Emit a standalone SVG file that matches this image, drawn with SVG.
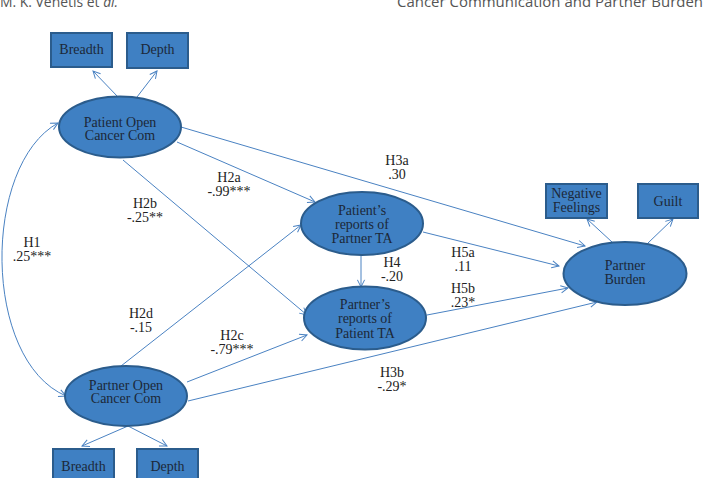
<svg xmlns="http://www.w3.org/2000/svg" width="704" height="478" viewBox="0 0 704 478">
<style>
.node{fill:#3f80c3;stroke:#2b5c8c;stroke-width:2}
.nt{font-family:"Liberation Serif","Times New Roman",serif;font-size:14px;fill:#1c2838;text-anchor:middle}
.lb{font-family:"Liberation Serif","Times New Roman",serif;font-size:14px;fill:#222;text-anchor:middle}
.ed{fill:none;stroke:#4a82c2;stroke-width:1;marker-end:url(#ah)}
.hd{font-family:"Open Sans","Noto Sans",sans-serif;font-size:14px;fill:#555}
</style>
<defs>
<marker id="ah" viewBox="0 0 10 10" refX="9" refY="5" markerWidth="9" markerHeight="9" markerUnits="userSpaceOnUse" orient="auto-start-reverse">
<path d="M1,1 L9,5 L1,9" fill="none" stroke="#4a82c2" stroke-width="1.1"/>
</marker>
</defs>
<rect width="704" height="478" fill="#fff"/>
<g id="header">
<text class="hd" x="0" y="7" textLength="118" lengthAdjust="spacingAndGlyphs">M. K. Venetis et <tspan font-style="italic">al.</tspan></text>
<text class="hd" x="397" y="7" textLength="306" lengthAdjust="spacingAndGlyphs">Cancer Communication and Partner Burden</text>
</g>
<g id="connectors">
<line class="ed" x1="118" y1="97" x2="93" y2="71"/>
<line class="ed" x1="137" y1="97" x2="157" y2="71"/>
<line class="ed" x1="128" y1="426" x2="82" y2="446"/>
<line class="ed" x1="128" y1="426" x2="167" y2="446"/>
<line class="ed" x1="612" y1="242" x2="587" y2="219"/>
<line class="ed" x1="648" y1="243" x2="673" y2="219"/>
<path class="ed" d="M58,123 C-18,165 -18,360 66,396" marker-start="url(#ah)"/>
<line class="ed" x1="177" y1="142" x2="315" y2="202"/>
<line class="ed" x1="123" y1="160" x2="307" y2="315"/>
<line class="ed" x1="181" y1="127" x2="585" y2="246"/>
<line class="ed" x1="121" y1="366" x2="301" y2="225"/>
<line class="ed" x1="187" y1="382" x2="307" y2="335"/>
<line class="ed" x1="188" y1="401" x2="597" y2="302"/>
<line class="ed" x1="361" y1="255" x2="361" y2="287"/>
<line class="ed" x1="423" y1="232" x2="559" y2="266"/>
<line class="ed" x1="427" y1="315" x2="568" y2="288"/>
</g>
<g id="breadth1"><rect class="node" x="51" y="33" width="61" height="34"/><text class="nt" x="81.5" y="54">Breadth</text></g>
<g id="depth1"><rect class="node" x="127" y="33" width="61" height="35"/><text class="nt" x="157.5" y="54">Depth</text></g>
<g id="patientOpen"><ellipse class="node" cx="120" cy="127" rx="61" ry="30.5"/><text class="nt" x="120" y="126.5">Patient Open</text><text class="nt" x="120" y="140">Cancer Com</text></g>
<g id="patientReports"><ellipse class="node" cx="362" cy="223.5" rx="61" ry="31.5"/><text class="nt" x="362" y="214.5">Patient’s</text><text class="nt" x="362" y="229">reports of</text><text class="nt" x="362" y="243">Partner TA</text></g>
<g id="partnerReports"><ellipse class="node" cx="365" cy="318" rx="61" ry="31.5"/><text class="nt" x="365" y="309">Partner’s</text><text class="nt" x="365" y="323">reports of</text><text class="nt" x="365" y="337.5">Patient TA</text></g>
<g id="partnerBurden"><ellipse class="node" cx="625" cy="273.5" rx="61.5" ry="31.5"/><text class="nt" x="625" y="269.5">Partner</text><text class="nt" x="625" y="284">Burden</text></g>
<g id="negFeelings"><rect class="node" x="546" y="184" width="61" height="34"/><text class="nt" x="576.5" y="198">Negative</text><text class="nt" x="576.5" y="211.5">Feelings</text></g>
<g id="guilt"><rect class="node" x="638" y="184" width="60" height="34"/><text class="nt" x="668" y="205.5">Guilt</text></g>
<g id="partnerOpen"><ellipse class="node" cx="126" cy="396" rx="61" ry="30"/><text class="nt" x="126" y="389.5">Partner Open</text><text class="nt" x="126" y="403">Cancer Com</text></g>
<g id="breadth2"><rect class="node" x="53" y="449" width="61" height="34"/><text class="nt" x="83.5" y="471">Breadth</text></g>
<g id="depth2"><rect class="node" x="137" y="449" width="61" height="34"/><text class="nt" x="167.5" y="471">Depth</text></g>
<g id="labels">
<text class="lb" x="32" y="247">H1</text><text class="lb" x="32" y="261">.25***</text>
<text class="lb" x="229" y="182">H2a</text><text class="lb" x="229" y="196">-.99***</text>
<text class="lb" x="145" y="208">H2b</text><text class="lb" x="145" y="222">-.25**</text>
<text class="lb" x="141" y="318">H2d</text><text class="lb" x="141" y="332">-.15</text>
<text class="lb" x="232" y="340">H2c</text><text class="lb" x="232" y="354">-.79***</text>
<text class="lb" x="397" y="165">H3a</text><text class="lb" x="397" y="179">.30</text>
<text class="lb" x="392" y="267">H4</text><text class="lb" x="392" y="281">-.20</text>
<text class="lb" x="463" y="257">H5a</text><text class="lb" x="463" y="271">.11</text>
<text class="lb" x="463" y="293">H5b</text><text class="lb" x="463" y="307">.23*</text>
<text class="lb" x="392" y="377">H3b</text><text class="lb" x="392" y="391">-.29*</text>
</g>
</svg>
